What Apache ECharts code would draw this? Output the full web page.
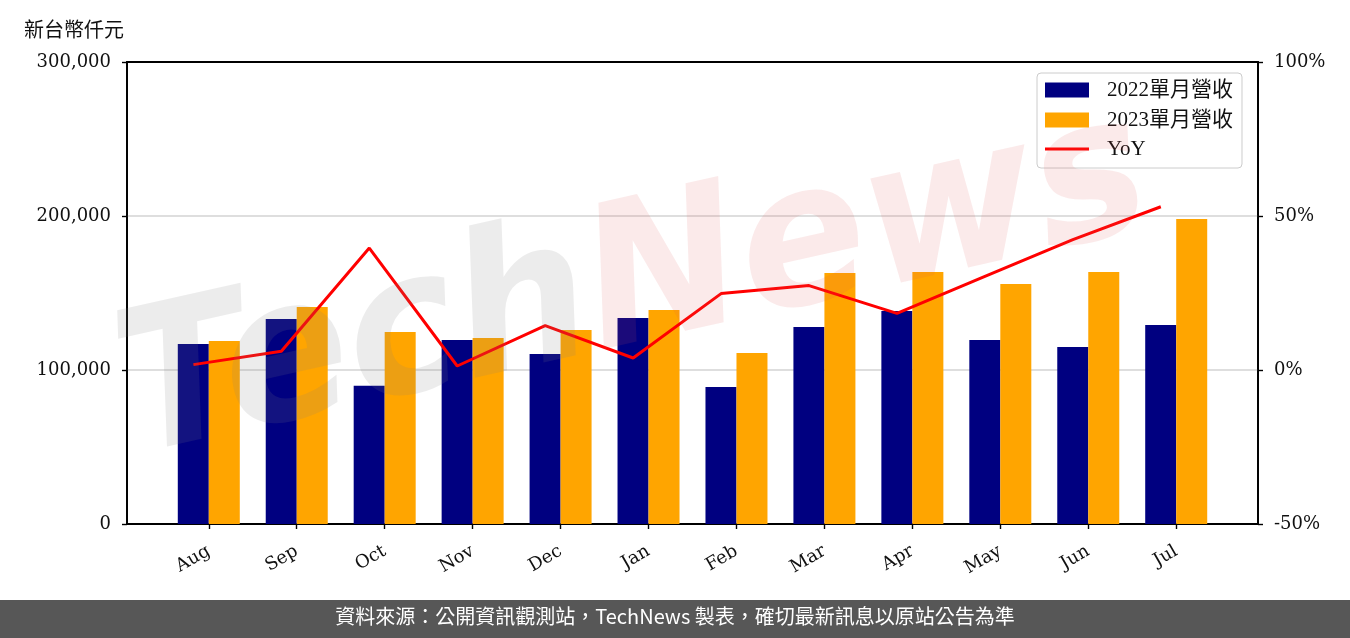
<!DOCTYPE html>
<html lang="zh-Hant-TW">
<head>
<meta charset="utf-8">
<script src="https://cdn.jsdelivr.net/npm/echarts@6/dist/echarts.min.js"></script>
<style>
html,body{margin:0;padding:0;background:#fff;}
#c{width:1350px;height:638px;}
</style>
</head>
<body>
<div id="c" lang="zh-Hant-TW"></div>
<script>
const months = ['Aug','Sep','Oct','Nov','Dec','Jan','Feb','Mar','Apr','May','Jun','Jul'];
const rev2022 = [116900,133100,89700,119500,110400,133800,89000,128000,138300,119500,115000,129200];
const rev2023 = [118900,140900,124700,120800,126000,139000,111100,163000,163600,155800,163600,198000];
const yoy = [1.75,6.1,39.6,1.3,14.4,3.9,24.8,27.4,18.4,30.4,42.3,53.0];
const leftTicks = [0,100000,200000,300000];
const rightTicks = [-50,0,50,100];
const seriesNames = ['2022單月營收','2023單月營收','YoY'];

const LINE_SHIFT = 0.175; // line points sit at the centre of the 2022 bar (half bar-group width)
const idx = months.map((m,i)=>i);

const serif = "'DejaVu Serif', serif";
const legendFont = "'Liberation Serif','Noto Sans CJK TC', serif";
const cjk = "'Noto Sans CJK TC', sans-serif";
const legendText = {fontFamily:legendFont, fontSize:21, color:'#111', padding:[0,0,0,13], lineHeight:22};

const chart = echarts.init(document.getElementById('c'), null, {renderer:'canvas'});
chart.setOption({
  animation:false,
  backgroundColor:'#fff',
  title:{text:'新台幣仟元', left:19, top:14, textStyle:{fontFamily:cjk, fontSize:20, fontWeight:'normal', color:'#111'}},
  grid:{left:127, right:92, top:62, bottom:114, show:true, borderColor:'#000', borderWidth:1.8, backgroundColor:'transparent'},
  legend:[
    {
      orient:'vertical', left:1037, top:73, z:20,
      itemWidth:44, itemHeight:15, itemGap:8,
      padding:[6,9,37,8],
      backgroundColor:'rgba(255,255,255,0.8)', borderColor:'#cccccc', borderWidth:1, borderRadius:4,
      textStyle:legendText,
      data:[{name:seriesNames[0], icon:'rect'},{name:seriesNames[1], icon:'rect'}]
    },
    {
      orient:'vertical', left:1045, top:138, z:21,
      itemWidth:44, itemHeight:3, padding:0,
      textStyle:legendText,
      data:[{name:seriesNames[2], icon:'rect'}]
    }
  ],
  xAxis:{
    type:'value', min:-0.93, max:11.93,
    axisLine:{show:true, onZero:false, lineStyle:{color:'#000', width:1.8}},
    axisTick:{show:true, length:5, lineStyle:{color:'#000', width:1.4}, customValues:idx},
    axisLabel:{customValues:idx, formatter:(v)=>months[Math.round(v)], rotate:30, margin:26,
      fontFamily:serif, fontSize:18, color:'#111'},
    splitLine:{show:false}
  },
  yAxis:[
    {type:'value', min:leftTicks[0], max:leftTicks[leftTicks.length-1], interval:leftTicks[1]-leftTicks[0],
     axisLine:{show:true, onZero:false, lineStyle:{color:'#000', width:1.8}},
     axisTick:{show:true, length:5, lineStyle:{color:'#000', width:1.4}},
     axisLabel:{formatter:(v)=>v.toLocaleString('en-US'), margin:16, fontFamily:serif, fontSize:18, color:'#111'},
     splitLine:{show:true, showMinLine:false, showMaxLine:false, lineStyle:{color:'#d3d3d3', width:1.5}}},
    {type:'value', min:rightTicks[0], max:rightTicks[rightTicks.length-1], interval:rightTicks[1]-rightTicks[0],
     position:'right',
     axisLine:{show:true, onZero:false, lineStyle:{color:'#000', width:1.8}},
     axisTick:{show:true, length:5, lineStyle:{color:'#000', width:1.4}},
     axisLabel:{formatter:'{value}%', margin:16, fontFamily:serif, fontSize:18, color:'#111'},
     splitLine:{show:false}}
  ],
  series:[
    {name:seriesNames[0], type:'bar', barWidth:31, barGap:'0%', itemStyle:{color:'#000080'},
     data:rev2022.map((v,i)=>[i,v])},
    {name:seriesNames[1], type:'bar', barWidth:31, barGap:'0%', itemStyle:{color:'#FFA500'},
     data:rev2023.map((v,i)=>[i,v])},
    {name:seriesNames[2], type:'line', yAxisIndex:1, symbol:'none', z:5,
     lineStyle:{color:'#FF0000', width:3}, itemStyle:{color:'#FF0000'},
     data:yoy.map((v,i)=>[i-LINE_SHIFT, v])}
  ],
  graphic:[
    {type:'text', x:145, y:500, rotation:0.22, scaleY:1.05, silent:true, z:100,
     style:{text:'{a|Tech}{b|News}', verticalAlign:'bottom',
       rich:{
         a:{fontFamily:"'DejaVu Sans'", fontStyle:'italic', fontWeight:'bold', fontSize:188, fill:'rgba(128,128,128,0.15)'},
         b:{fontFamily:"'DejaVu Sans'", fontStyle:'italic', fontWeight:'bold', fontSize:188, fill:'rgba(220,80,80,0.12)'}
       }}},
    {type:'rect', left:0, top:600, shape:{width:1350, height:38}, style:{fill:'#575757'}, silent:true, z:110},
    {type:'text', left:'center', top:606, z:111, silent:true,
     style:{text:'資料來源：公開資訊觀測站，TechNews 製表，確切最新訊息以原站公告為準', fill:'#ffffff', fontFamily:cjk, fontSize:20}}
  ]
});
</script>
</body>
</html>
